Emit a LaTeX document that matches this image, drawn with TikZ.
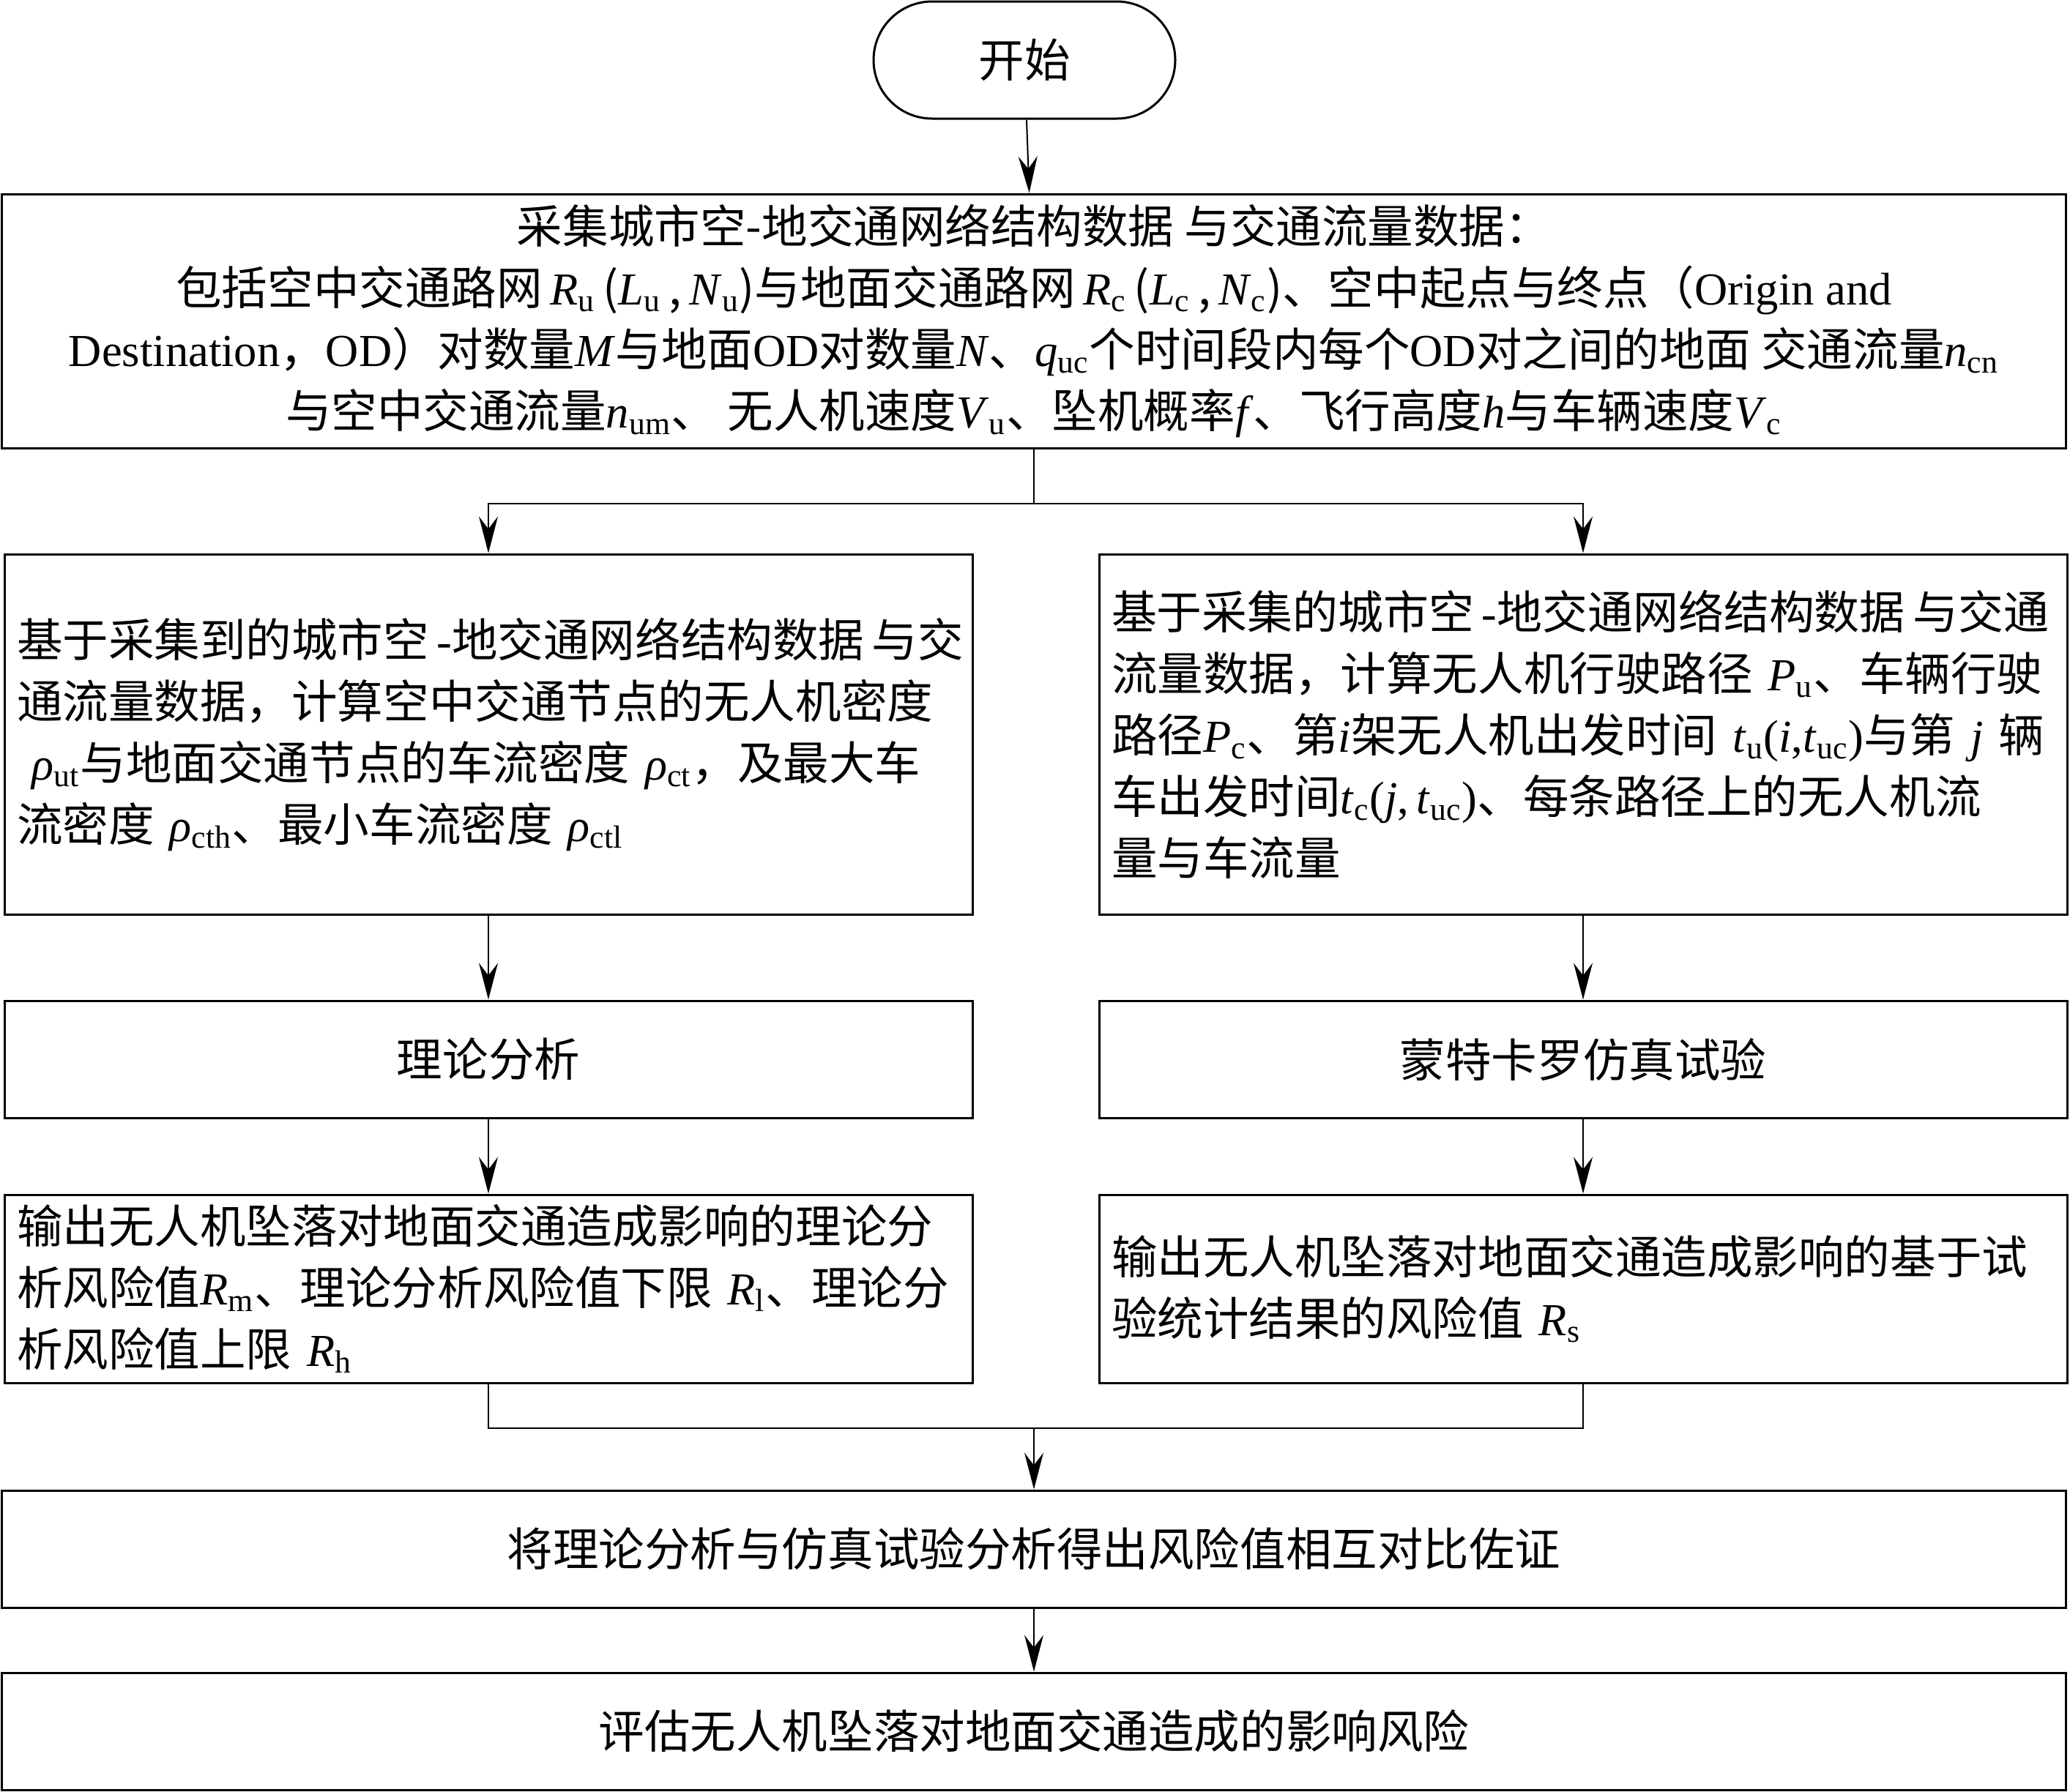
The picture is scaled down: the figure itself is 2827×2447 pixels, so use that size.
\documentclass[tikz,border=0pt]{standalone}
\usepackage{fontspec}
\usepackage{graphicx}
\setmainfont{Noto Sans CJK SC}
\newfontfamily\tnr{Liberation Serif}
\usetikzlibrary{positioning, arrows.meta, calc}
\exhyphenpenalty=10000
\hyphenpenalty=10000

\newcommand{\ivar}[1]{{\tnr\textit{#1}}}
\newcommand{\mvar}[2]{{\tnr\textit{#1}\textsubscript{\textup{#2}}}}
\newcommand{\rhovar}[1]{{\tnr\textit{ρ}\textsubscript{\textup{#1}}}}
\newcommand{\lat}[1]{{\tnr #1}}

\begin{document}
\begin{tikzpicture}[x=0.1mm, y=-0.1mm, >={Stealth[length=5mm, width=2.6mm, inset=1.7mm]},
    every node/.style={font=\fontsize{17.8pt}{23.9pt}\selectfont},
    startbox/.style={draw, line width=0.3mm, rounded corners=8mm, minimum width=41.2mm, minimum height=16mm, inner sep=0pt},
    widebox/.style={draw, line width=0.3mm, minimum width=281.9mm, minimum height=#1, inner sep=0pt, align=center},
    sidebox/.style={draw, line width=0.3mm, minimum width=132.2mm, minimum height=#1, inner xsep=1.7mm, inner ysep=0pt, text width=128.8mm, align=left},
    midbox/.style={draw, line width=0.3mm, minimum width=132.2mm, minimum height=16mm, inner sep=0pt, align=center},
    line/.style={line width=0.2mm}]
    \useasboundingbox (0,0) rectangle (2827,2447);

    % Start
    \node[startbox] (start) at (1399,82) {开始};

    % Data collection
    \node[widebox=34.7mm] (collect) at (1412,438.5) {采集城市空\mbox{-}地交通网络结构数据~与交通流量数据：\\
        包括空中交通路网\,\mvar{R}{u}\,(\mvar{L}{u}\,,\,\mvar{N}{u})与地面交通路网\,\mvar{R}{c}\,(\mvar{L}{c}\,,\,\mvar{N}{c})、空中起点与终点（\lat{Origin and}\\
        \lat{Destination}，\lat{OD}）对数量\ivar{M}与地面\lat{OD}对数量\ivar{N}、\mvar{q}{uc}个时间段内每个\lat{OD}对之间的地面~交通流量\mvar{n}{cn}\\
        与空中交通流量\mvar{n}{um}、~无人机速度\mvar{V}{u}、坠机概率\ivar{f}、飞行高度\ivar{h}与车辆速度\mvar{V}{c}};

    % Two branches
    \node[sidebox=49.2mm] (density) at (667,1003) {\mbox{基于采集到的城市空\,\lat{-}地交通网络结构数据\,与交}\\
        通流量数据，计算空中交通节点的无人机密度\\
        ~\rhovar{ut}与地面交通节点的车流密度~\rhovar{ct}，及最大车\\
        流密度~\rhovar{cth}、最小车流密度~\rhovar{ctl}};
    \node[sidebox=49.2mm] (path) at (2162,1003) {\scalebox{0.99}[1]{基于采集的城市空\,\lat{-}地交通网络结构数据\,与交通}\\
        流量数据，计算无人机行驶路径~\mvar{P}{u}、车辆行驶\\
        路径\mvar{P}{c}、第\ivar{i}架无人机出发时间~\mvar{t}{u}\lat{(\textit{i},\mvar{t}{uc})}与第~\ivar{j}~辆\\
        车出发时间\mvar{t}{c}\lat{(\textit{j},\,\mvar{t}{uc})}、每条路径上的无人机流\\
        量与车流量};

    \node[midbox] (theory) at (667,1447) {理论分析};
    \node[midbox] (monte) at (2162,1447) {蒙特卡罗仿真试验};

    \node[sidebox=25.7mm] (theoryout) at (667,1760.5) {输出无人机坠落对地面交通造成影响的理论分\\
        析风险值\mvar{R}{m}、理论分析风险值下限~\mvar{R}{l}、理论分\\
        析风险值上限~\mvar{R}{h}};
    \node[sidebox=25.7mm] (simout) at (2162,1760.5) {输出无人机坠落对地面交通造成影响的基于试\\
        验统计结果的风险值~\mvar{R}{s}};

    % Comparison and result
    \node[widebox=16mm] (compare) at (1412,2116) {将理论分析与仿真试验分析得出风险值相互对比佐证};
    \node[widebox=16mm] (final) at (1412,2365) {评估无人机坠落对地面交通造成的影响风险};

    % Connectors
    \coordinate (split) at (1412,688);
    \coordinate (merge) at (1412,1951);
    \draw[line, ->] (start) -- (collect);
    \draw[line] (collect.south) -- (split);
    \draw[line, ->] (split) -| (density.north);
    \draw[line, ->] (split) -| (path.north);
    \draw[line, ->] (density) -- (theory);
    \draw[line, ->] (path) -- (monte);
    \draw[line, ->] (theory) -- (theoryout);
    \draw[line, ->] (monte) -- (simout);
    \draw[line] (theoryout.south) |- (merge);
    \draw[line] (simout.south) |- (merge);
    \draw[line, ->] (merge) -- (compare);
    \draw[line, ->] (compare) -- (final);
\end{tikzpicture}
\end{document}
